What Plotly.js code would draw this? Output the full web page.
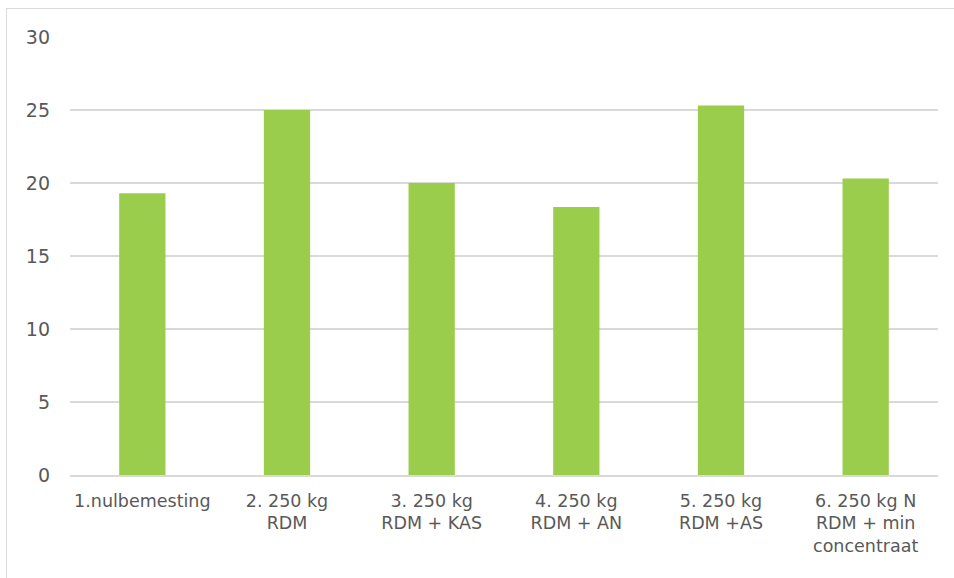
<!DOCTYPE html>
<html>
<head>
<meta charset="utf-8">
<script src="https://cdn.plot.ly/plotly-3.0.1.min.js"></script>
<style>
  html, body { margin: 0; padding: 0; background: #ffffff; }
  #frame { position: absolute; left: 6px; top: 8px; width: 960px; height: 600px;
           border: 1.5px solid #d9d9d9; box-sizing: border-box; }
  #chart { position: absolute; left: 0; top: 0; width: 954px; height: 578px; }
</style>
</head>
<body>
<div id="frame"></div>
<div id="chart"></div>
<script>
// Treatment categories (x axis)
const categories = [
  "1.nulbemesting",
  "2. 250 kg<br>RDM",
  "3. 250 kg<br>RDM + KAS",
  "4. 250 kg<br>RDM + AN",
  "5. 250 kg<br>RDM +AS",
  "6. 250 kg N<br>RDM + min<br>concentraat"
];

// Measured value per treatment
const values = [19.3, 25.0, 20.0, 18.35, 25.3, 20.3];

// Y axis ticks
const yTicks = [0, 5, 10, 15, 20, 25, 30];

const trace = {
  type: "bar",
  x: categories,
  y: values,
  marker: { color: "#9bcd4c" },
  hoverinfo: "x+y"
};

const layout = {
  width: 954,
  height: 578,
  margin: { l: 70, r: 16, t: 37, b: 103 },
  paper_bgcolor: "rgba(0,0,0,0)",
  plot_bgcolor: "rgba(0,0,0,0)",
  bargap: 0.68,
  showlegend: false,
  font: { family: "DejaVu Sans, sans-serif", size: 17, color: "#595959" },
  xaxis: {
    type: "category",
    showgrid: false,
    showline: true,
    linecolor: "#d9d9d9",
    linewidth: 1.5,
    ticks: "",
    ticklabelstandoff: 9,
    tickfont: { size: 17.5, color: "#595959" }
  },
  yaxis: {
    range: [0, 30],
    tickvals: yTicks,
    ticktext: yTicks.map(String),
    showgrid: true,
    gridcolor: "#d9d9d9",
    gridwidth: 1.5,
    zeroline: false,
    showline: false,
    ticks: "",
    ticklabelstandoff: 19,
    tickfont: { size: 19, color: "#595959" }
  }
};

Plotly.newPlot("chart", [trace], layout, { displayModeBar: false, staticPlot: true });
</script>
</body>
</html>
